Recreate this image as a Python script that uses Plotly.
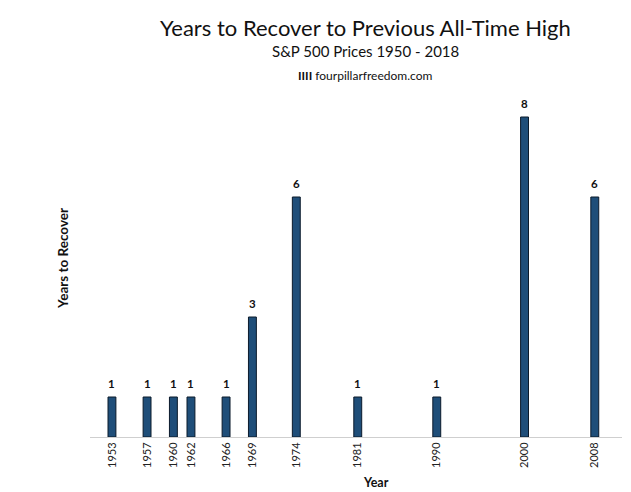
import plotly.graph_objects as go

years = [1953, 1957, 1960, 1962, 1966, 1969, 1974, 1981, 1990, 2000, 2008]
recover = [1, 1, 1, 1, 1, 3, 6, 1, 1, 8, 6]
tick_labels = [str(y) for y in years]

FONT = "Lato"
OFF = 8  # page body margin
W, H = 631 - OFF, 492 - OFF
L, R, T, B = 90 - OFF, W - (622 - OFF), 97 - OFF, H - (437 - OFF)

fig = go.Figure()
fig.add_trace(go.Bar(
    x=years, y=recover, width=0.9,
    marker=dict(color="#1f4e79", line=dict(color="#0b1a2b", width=1)),
    hoverinfo="x+y",
))

annotations = [
    dict(text="Years to Recover to Previous All-Time High", x=365, y=27,
         font=dict(size=22)),
    dict(text="S&P 500 Prices 1950 - 2018", x=365, y=51, font=dict(size=15)),
    dict(text="<b>IIII</b> fourpillarfreedom.com", x=365, y=75,
         font=dict(size=12)),
    dict(text="<b>Year</b>", x=376, y=482, font=dict(size=12.5)),
    dict(text="<b>Years to Recover</b>", x=63, y=259, textangle=-90,
         font=dict(size=13.5)),
]

pw = W - L - R
ph = H - T - B
paper_ann = []
for a in annotations:
    px, py = a["x"] - OFF, a["y"] - OFF
    a.update(x=(px - L) / pw, y=(H - B - py) / ph, xref="paper", yref="paper",
             xanchor="center", yanchor="middle", showarrow=False)
    paper_ann.append(a)

# value labels above bars
value_ann = [
    dict(x=yr, y=v, xref="x", yref="y", text=f"<b>{v}</b>", showarrow=False,
         yanchor="middle", yshift=14, font=dict(size=11.5, color="#111111"))
    for yr, v in zip(years, recover)
]

fig.update_layout(
    width=W, height=H,
    margin=dict(l=L, r=R, t=T, b=B),
    plot_bgcolor="white", paper_bgcolor="white",
    showlegend=False,
    font=dict(family=FONT, color="#111111"),
    xaxis=dict(range=[1950.5, 2011.1], tickvals=years, ticktext=tick_labels,
               tickangle=-90, showgrid=False, zeroline=False,
               showline=True, linecolor="#cfcfcf", linewidth=1,
               ticks="", tickfont=dict(size=11, color="#222222")),
    yaxis=dict(range=[0, 8.5], showticklabels=False, showgrid=False,
               zeroline=False, showline=False, ticks=""),
    annotations=paper_ann + value_ann,
)

fig.write_html("out.html")
